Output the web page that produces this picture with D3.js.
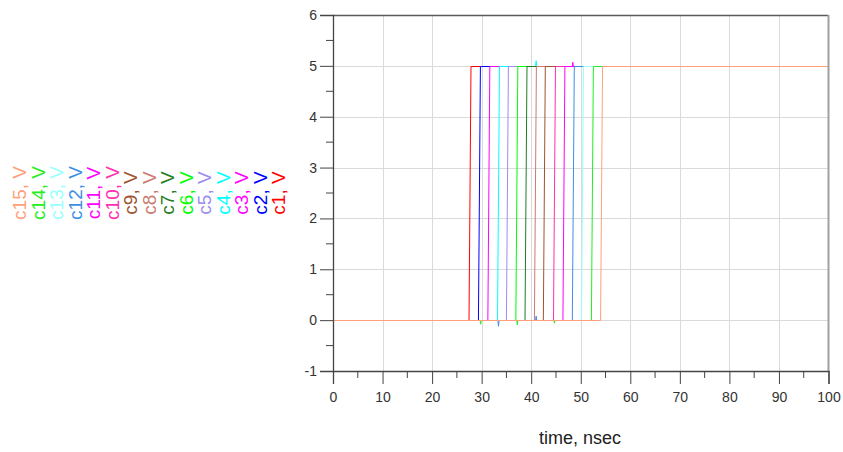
<!DOCTYPE html>
<html><head><meta charset="utf-8">
<script src="https://cdn.jsdelivr.net/npm/d3@7"></script>
<style>body{margin:0;background:#fff}svg{display:block}</style>
</head><body>
<svg id="chart" width="843" height="452"></svg>
<script>
// ---- data ----
const seriesNames = ["c1","c2","c3","c4","c5","c6","c7","c8","c9","c10","c11","c12","c13","c14","c15"];
const seriesColors = ["#ff0000","#0000ff","#ff00ff","#00ffff","#9c8cf0","#00ff00","#1e7d1e","#cc7a70","#a0522d","#ff2fb0","#ff00ff","#3d8fe6","#99ffff","#22ee22","#ffa07a"];
const riseStart = [27.45,29.35,31.25,33.2,35.0,36.9,38.75,40.65,42.45,44.5,46.4,48.3,50.15,52.15,54.0];
const riseEnd   = [27.85,29.75,31.65,33.6,35.4,37.3,39.15,41.05,42.85,44.9,46.8,48.7,50.55,52.55,54.4];
const lowLevel = 0, highLevel = 5;
const tStart = 0, tEnd = 100;
// small crosstalk glitches: series index, time, peak value
const glitchSeries = [13, 11, 13, 11, 13, 3, 2];
const glitchTime   = [29.8, 33.4, 37.2, 41.0, 44.7, 41.0, 48.4];
const glitchValue  = [-0.08, -0.12, -0.09, 0.08, -0.06, 5.1, 5.07];
const xTicks = [0,10,20,30,40,50,60,70,80,90,100];
const yTicks = [-1,0,1,2,3,4,5,6];
const xLabel = "time, nsec";

// ---- layout ----
const svg = d3.select("#chart");
const x = d3.scaleLinear().domain([0,100]).range([333,828.5]);
const y = d3.scaleLinear().domain([-1,6]).range([371,15]);
const py = v => Math.round(y(v)) + 0.5; // pixel-snapped y

// grid
const grid = svg.append("g").attr("stroke","#dadada").attr("stroke-width",1);
grid.selectAll("line.v").data(xTicks.filter(d=>d>0 && d<100)).join("line")
  .attr("x1",d=>Math.round(x(d))+0.5).attr("x2",d=>Math.round(x(d))+0.5)
  .attr("y1",y(6)).attr("y2",y(-1));
grid.selectAll("line.h").data(yTicks.filter(d=>d>-1 && d<6)).join("line")
  .attr("y1",d=>py(d)).attr("y2",d=>py(d))
  .attr("x1",x(0)).attr("x2",x(100));

// traces
const line = d3.line().x(d=>x(d[0])).y(d=>(d[1]===lowLevel||d[1]===highLevel) ? py(d[1]) : y(d[1]));
seriesNames.forEach((name,i)=>{
  let pts = [[tStart,lowLevel],[riseStart[i],lowLevel],[riseEnd[i],highLevel],[tEnd,highLevel]];
  glitchSeries.forEach((s,k)=>{
    if(s!==i) return;
    const t = glitchTime[k];
    const base = t < riseStart[i] ? lowLevel : highLevel;
    pts.push([t-0.12,base],[t,glitchValue[k]],[t+0.12,base]);
  });
  pts.sort((a,b)=>a[0]-b[0]);
  svg.append("path").datum(pts).attr("d",line)
    .attr("fill","none").attr("stroke",seriesColors[i]).attr("stroke-width",1);
});

// frame: top & right
svg.append("line").attr("x1",x(0)).attr("x2",x(100)).attr("y1",y(6)+0.5).attr("y2",y(6)+0.5)
  .attr("stroke","#5a5a5a").attr("stroke-width",1.3);
svg.append("line").attr("x1",x(100)).attr("x2",x(100)).attr("y1",y(6)).attr("y2",y(-1))
  .attr("stroke","#a0a0a0").attr("stroke-width",2);

// axes
const font = "'Liberation Sans', Arial, sans-serif";
const fmt = d => String(d);
const yAxis = d3.axisLeft(y).tickValues(yTicks).tickSize(13).tickPadding(3).tickFormat(fmt);
const gy = svg.append("g").attr("transform",`translate(${x(0)},0)`).call(yAxis);
gy.select(".domain").attr("stroke","#444").attr("stroke-width",1.3);
gy.selectAll(".tick line").attr("stroke","#444");
gy.selectAll(".tick text").attr("font-family",font).attr("font-size",14).attr("fill","#333");
const yMinor = d3.range(-0.5,6,1);
gy.selectAll("line.minor").data(yMinor).join("line").attr("class","minor")
  .attr("x1",-7).attr("x2",0).attr("y1",d=>y(d)).attr("y2",d=>y(d)).attr("stroke","#444");

const xAxis = d3.axisBottom(x).tickValues(xTicks).tickSize(13).tickPadding(8).tickFormat(fmt);
const gx = svg.append("g").attr("transform",`translate(0,${y(-1)})`).call(xAxis);
gx.select(".domain").attr("stroke","#444").attr("stroke-width",1.3);
gx.selectAll(".tick line").attr("stroke","#444");
gx.selectAll(".tick text").attr("font-family",font).attr("font-size",14).attr("fill","#333");
const xMinor = d3.range(5,100,10);
gx.selectAll("line.minor").data(xMinor).join("line").attr("class","minor")
  .attr("y1",0).attr("y2",7).attr("x1",d=>x(d)).attr("x2",d=>x(d)).attr("stroke","#444");

svg.append("text").attr("x",580).attr("y",444).attr("text-anchor","middle")
  .attr("font-family",font).attr("font-size",18).attr("fill","#222").text(xLabel);

// legend (rotated)
const nS = seriesNames.length;
seriesNames.forEach((name,i)=>{
  const col = nS-1-i; // c15 leftmost
  const bx = 26 + col*18.5;
  svg.append("text").attr("transform",`translate(${bx},193) rotate(-90)`)
    .attr("text-anchor","middle").attr("font-family",font).attr("font-size",19)
    .attr("fill",seriesColors[i]).text(name+", V");
});
</script>
</body></html>
